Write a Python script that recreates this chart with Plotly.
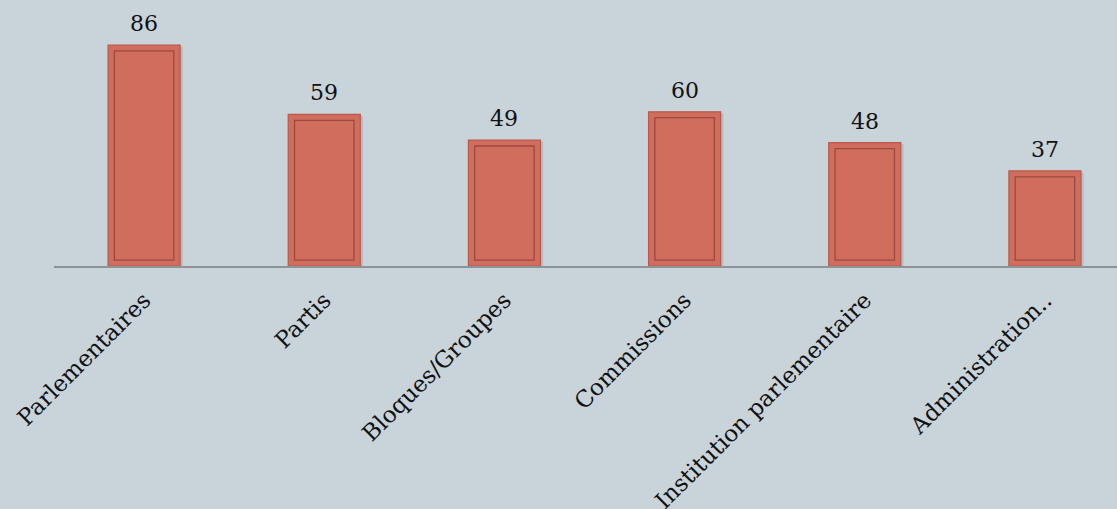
import plotly.graph_objects as go

categories = ["Parlementaires", "Partis", "Bloques/Groupes", "Commissions",
              "Institution parlementaire", "Administration.."]
values = [86, 59, 49, 60, 48, 37]

BG = "#c8d3da"
FILL = "#d06d5d"
EDGE = "#b95a4b"
INNER = "#9a4a3f"
FONT = "Georgia, 'DejaVu Serif', serif"

inset = 2.3  # data units for inner frame inset

fig = go.Figure()
# soft shadow
fig.add_trace(go.Bar(
    x=categories, y=[v + 0.3 for v in values], base=[-0.9] * len(values),
    width=0.41, offset=-0.195,
    marker=dict(color="rgba(70,80,90,0.16)", line=dict(width=0)),
    hoverinfo="skip", showlegend=False,
))
fig.add_trace(go.Bar(
    x=categories, y=values, width=0.4,
    marker=dict(color=FILL, line=dict(color=EDGE, width=1.2)),
    hoverinfo="skip", showlegend=False,
))
fig.add_trace(go.Bar(
    x=categories, y=[v - 2 * inset for v in values], base=[inset] * len(values),
    width=0.33,
    marker=dict(color="rgba(0,0,0,0)", line=dict(color=INNER, width=1.3)),
    hoverinfo="skip", showlegend=False,
))

for c, v in zip(categories, values):
    fig.add_annotation(x=c, y=v, text=str(v), showarrow=False,
                       yanchor="bottom", yshift=7,
                       font=dict(family=FONT, size=22, color="#111111"))

fig.update_layout(
    width=1117, height=509,
    margin=dict(l=54, r=0, t=0, b=243, autoexpand=False),
    paper_bgcolor=BG, plot_bgcolor=BG,
    barmode="overlay",
    font=dict(family=FONT, size=23, color="#111111"),
    xaxis=dict(range=[-0.5, 5.4], showline=True, linecolor="#8e9396", linewidth=1.5,
               showgrid=False, tickangle=-45, ticks="", zeroline=False,
               automargin=False, ticklabelstandoff=10,
               tickfont=dict(family=FONT, size=23, color="#111111")),
    yaxis=dict(range=[0, 103.5], visible=False, showgrid=False, zeroline=False,
               automargin=False),
)

fig.write_html("out.html", config={"displayModeBar": False},
               post_script="document.body.style.margin='0';")
